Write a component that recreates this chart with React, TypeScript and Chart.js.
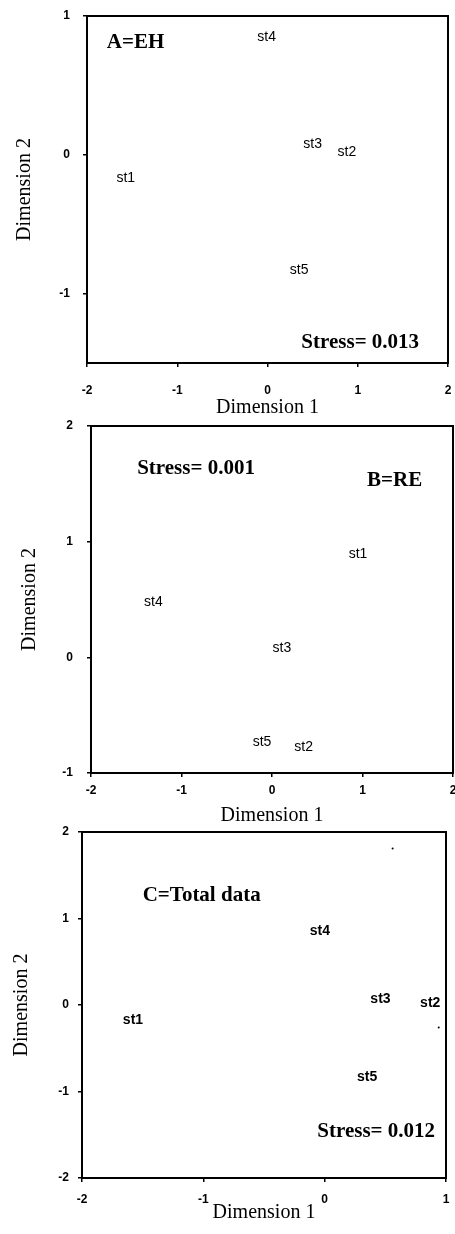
import React, { useEffect, useRef } from "react";
import { Chart, registerables } from "chart.js";

Chart.register(...registerables);

// ---- data ----
const stations = ["st1", "st2", "st3", "st4", "st5"];

const ehDim1 = [-1.57, 0.88, 0.5, -0.01, 0.35];
const ehDim2 = [-0.17, 0.02, 0.08, 0.85, -0.83];

const reDim1 = [0.95, 0.35, 0.11, -1.31, -0.11];
const reDim2 = [0.89, -0.78, 0.08, 0.48, -0.73];

const totDim1 = [-1.58, 0.87, 0.46, -0.04, 0.35];
const totDim2 = [-0.17, 0.02, 0.07, 0.85, -0.83];

const totSpeckX = [0.56, 0.94];
const totSpeckY = [1.81, -0.26];

const ehTicksX = [-2, -1, 0, 1, 2];
const ehTicksY = [-1, 0, 1];
const reTicksX = [-2, -1, 0, 1, 2];
const reTicksY = [-1, 0, 1, 2];
const totTicksX = [-2, -1, 0, 1];
const totTicksY = [-2, -1, 0, 1, 2];

const xTitle = "Dimension 1";
const yTitle = "Dimension 2";

type Note = { text: string; x: number; y: number; align: CanvasTextAlign };

type Panel = {
  top: number;
  height: number;
  plotTop: number;
  plotLeft: number;
  plotRight: number;
  plotBottom: number;
  xMin: number;
  xMax: number;
  yMin: number;
  yMax: number;
  xTicks: number[];
  yTicks: number[];
  d1: number[];
  d2: number[];
  speckX?: number[];
  speckY?: number[];
  xTickPad: number;
  yTickPad: number;
  xTitlePadBottom: number;
  yTitlePadTop: number;
  labelFont: string;
  notes: Note[];
};

const noteFont = 'bold 21px "Liberation Serif", "Times New Roman", serif';

const panels: Panel[] = [
  {
    top: 0,
    height: 420,
    plotTop: 16,
    plotLeft: 87,
    plotRight: 448,
    plotBottom: 363,
    xMin: -2,
    xMax: 2,
    yMin: -1.5,
    yMax: 1,
    xTicks: ehTicksX,
    yTicks: ehTicksY,
    d1: ehDim1,
    d2: ehDim2,
    xTickPad: 16,
    yTickPad: 13,
    xTitlePadBottom: 0,
    yTitlePadTop: 13,
    labelFont: '14px "Liberation Sans", Arial, sans-serif',
    notes: [
      { text: "A=EH", x: -1.78, y: 0.81, align: "left" },
      { text: "Stress= 0.013", x: 1.68, y: -1.35, align: "right" },
    ],
  },
  {
    top: 412,
    height: 418,
    plotTop: 426,
    plotLeft: 91,
    plotRight: 453,
    plotBottom: 773,
    xMin: -2,
    xMax: 2,
    yMin: -1,
    yMax: 2,
    xTicks: reTicksX,
    yTicks: reTicksY,
    d1: reDim1,
    d2: reDim2,
    xTickPad: 6,
    yTickPad: 14,
    xTitlePadBottom: 2,
    yTitlePadTop: 18,
    labelFont: '14px "Liberation Sans", Arial, sans-serif',
    notes: [
      { text: "Stress= 0.001", x: -1.49, y: 1.63, align: "left" },
      { text: "B=RE", x: 1.66, y: 1.53, align: "right" },
    ],
  },
  {
    top: 820,
    height: 414,
    plotTop: 832,
    plotLeft: 82,
    plotRight: 446,
    plotBottom: 1178,
    xMin: -2,
    xMax: 1,
    yMin: -2,
    yMax: 2,
    xTicks: totTicksX,
    yTicks: totTicksY,
    d1: totDim1,
    d2: totDim2,
    speckX: totSpeckX,
    speckY: totSpeckY,
    xTickPad: 10,
    yTickPad: 9,
    xTitlePadBottom: 9,
    yTitlePadTop: 10,
    labelFont: 'bold 14px "Liberation Sans", Arial, sans-serif',
    notes: [
      { text: "C=Total data", x: -1.5, y: 1.26, align: "left" },
      { text: "Stress= 0.012", x: 0.91, y: -1.46, align: "right" },
    ],
  },
];

function makeLabelPlugin(p: Panel) {
  return {
    id: "stLabels",
    afterDatasetsDraw(chart: any) {
      const ctx: CanvasRenderingContext2D = chart.ctx;
      const meta = chart.getDatasetMeta(0);
      const xs = chart.scales.x;
      const ys = chart.scales.y;
      ctx.save();
      ctx.fillStyle = "#000";
      ctx.font = p.labelFont;
      ctx.textAlign = "center";
      ctx.textBaseline = "middle";
      meta.data.forEach((el: any, i: number) => {
        ctx.fillText(stations[i], el.x, el.y);
      });
      ctx.font = noteFont;
      p.notes.forEach((n) => {
        ctx.textAlign = n.align;
        ctx.fillText(n.text, xs.getPixelForValue(n.x), ys.getPixelForValue(n.y));
      });
      const a = chart.chartArea;
      ctx.lineWidth = 2;
      ctx.strokeStyle = "#000";
      ctx.strokeRect(a.left, a.top, a.right - a.left, a.bottom - a.top);
      ctx.restore();
    },
  };
}

function zeroPad(s: any) {
  s.paddingLeft = 0;
  s.paddingRight = 0;
  s.paddingTop = 0;
  s.paddingBottom = 0;
}

function PanelChart({ p }: { p: Panel }) {
  const ref = useRef<HTMLCanvasElement | null>(null);
  useEffect(() => {
    if (!ref.current) return;
    const tickFont = { family: '"Liberation Sans", Arial, sans-serif', size: 12, weight: "bold" as const };
    const titleFont = { family: '"Liberation Serif", "Times New Roman", serif', size: 20 };
    const gridOpts = {
      display: true,
      drawOnChartArea: false,
      drawTicks: true,
      tickLength: 4,
      color: "#000",
      lineWidth: 1.5,
    };
    const datasets: any[] = [
      {
        data: p.d1.map((x, i) => ({ x, y: p.d2[i] })),
        pointRadius: 0,
        pointHoverRadius: 0,
      },
    ];
    if (p.speckX && p.speckY) {
      datasets.push({
        data: p.speckX.map((x, i) => ({ x, y: p.speckY![i] })),
        pointRadius: 1,
        pointBackgroundColor: "#000",
        pointBorderWidth: 0,
      });
    }
    const chart = new Chart(ref.current, {
      type: "scatter",
      data: { datasets },
      options: {
        animation: false,
        responsive: false,
        events: [],
        layout: {
          padding: {
            top: p.plotTop - p.top,
            left: 0,
            right: 455 - p.plotRight,
            bottom: 0,
          },
        },
        plugins: {
          legend: { display: false },
          tooltip: { enabled: false },
        },
        scales: {
          x: {
            type: "linear",
            min: p.xMin,
            max: p.xMax,
            afterBuildTicks: (s: any) => {
              s.ticks = p.xTicks.map((v) => ({ value: v }));
            },
            afterFit: (s: any) => {
              s.height = p.top + p.height - p.plotBottom;
              zeroPad(s);
            },
            grid: gridOpts,
            border: { display: false },
            ticks: {
              color: "#000",
              font: tickFont,
              padding: p.xTickPad,
              maxRotation: 0,
              autoSkip: false,
              callback: (v: any) => String(v),
            },
            title: {
              display: true,
              text: xTitle,
              color: "#000",
              font: titleFont,
              padding: { top: 0, bottom: p.xTitlePadBottom },
            },
          },
          y: {
            type: "linear",
            min: p.yMin,
            max: p.yMax,
            afterBuildTicks: (s: any) => {
              s.ticks = p.yTicks.map((v) => ({ value: v }));
            },
            afterFit: (s: any) => {
              s.width = p.plotLeft;
              zeroPad(s);
            },
            grid: gridOpts,
            border: { display: false },
            ticks: {
              color: "#000",
              font: tickFont,
              padding: p.yTickPad,
              autoSkip: false,
              callback: (v: any) => String(v),
            },
            title: {
              display: true,
              text: yTitle,
              color: "#000",
              font: titleFont,
              padding: { top: p.yTitlePadTop, bottom: 0 },
            },
          },
        },
      },
      plugins: [makeLabelPlugin(p)],
    } as any);
    return () => chart.destroy();
  }, [p]);
  return (
    <canvas
      ref={ref}
      width={455}
      height={p.height}
      style={{
        position: "absolute",
        left: 0,
        top: p.top,
        width: 455,
        height: p.height,
        display: "block",
      }}
    />
  );
}

export default function App() {
  return (
    <div
      style={{
        position: "absolute",
        left: 0,
        top: 0,
        width: 455,
        height: 1234,
        background: "#fff",
        overflow: "hidden",
      }}
    >
      {panels.map((p, i) => (
        <PanelChart key={i} p={p} />
      ))}
    </div>
  );
}
